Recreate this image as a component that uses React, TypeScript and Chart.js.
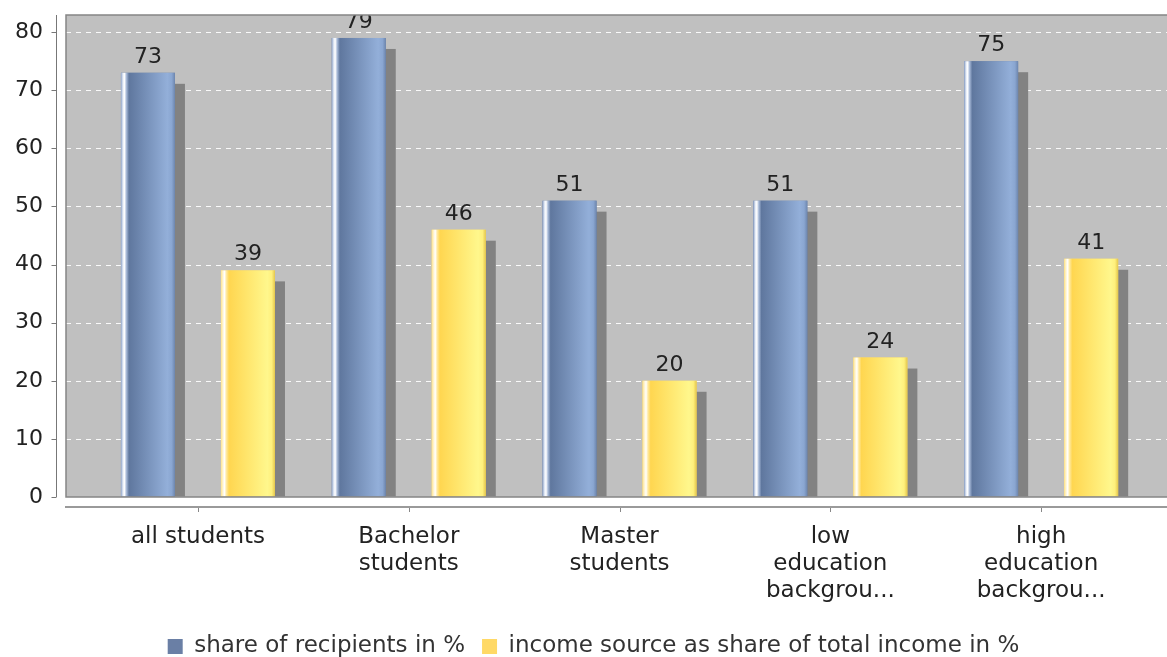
import React, { useEffect, useRef } from 'react';
import { Chart, registerables } from 'chart.js';

Chart.register(...registerables);

// ---- data ----
const categoryLabels: string[][] = [
  ['all students'],
  ['Bachelor', 'students'],
  ['Master', 'students'],
  ['low', 'education', 'backgrou...'],
  ['high', 'education', 'backgrou...'],
];
const seriesNames = ['share of recipients in %', 'income source as share of total income in %'];
const recipients = [73, 79, 51, 51, 75];
const incomeShare = [39, 46, 20, 24, 41];
const yTickStep = 10;
const yMax = 82.95;

// ---- styles ----
const FONT = 'DejaVu Sans';
const PLOT_BG = '#c0c0c0';
const SHADOW = '#828282';
const BLUE_STOPS: [number, string][] = [
  [0, '#8ea3c8'], [0.04, '#e8eef8'], [0.065, '#ffffff'], [0.1, '#a9bbd9'], [0.15, '#5f779e'],
  [0.86, '#93afd9'], [0.94, '#8aa6d1'], [1, '#6d86ae'],
];
const YELLOW_STOPS: [number, string][] = [
  [0, '#ffe48c'], [0.04, '#fff6d8'], [0.065, '#ffffff'], [0.1, '#ffe9a0'], [0.15, '#ffd650'],
  [0.86, '#fff78c'], [0.94, '#fff07c'], [1, '#e3c64c'],
];
const LEGEND_BLUE = '#6a7fa5';
const LEGEND_YELLOW = '#ffd966';

export default function App() {
  const ref = useRef<HTMLCanvasElement | null>(null);

  useEffect(() => {
    if (!ref.current) return;
    const stopsByDataset = [BLUE_STOPS, YELLOW_STOPS];

    const decor = {
      id: 'decor',
      afterLayout(chart: any) {
        const lg = chart.legend;
        if (lg) {
          const h = lg.bottom - lg.top;
          lg.top = 618;
          lg.bottom = 618 + h;
          lg.left += 10;
          lg.right += 10;
        }
      },
      beforeDatasetsDraw(chart: any) {
        const { ctx, chartArea: a, scales } = chart;
        ctx.save();
        ctx.fillStyle = PLOT_BG;
        ctx.fillRect(a.left, a.top, a.right - a.left, a.bottom - a.top);
        // dashed grid lines
        ctx.strokeStyle = 'rgba(255,255,255,0.9)';
        ctx.lineWidth = 1;
        ctx.setLineDash([5, 5]);
        scales.y.ticks.forEach((t: any) => {
          const py = Math.round(scales.y.getPixelForValue(t.value)) + 0.5;
          ctx.beginPath();
          ctx.moveTo(a.left, py);
          ctx.lineTo(a.right, py);
          ctx.stroke();
        });
        ctx.setLineDash([]);
        // shadows
        ctx.beginPath();
        ctx.rect(a.left, a.top, a.right - a.left, a.bottom - a.top);
        ctx.clip();
        ctx.fillStyle = SHADOW;
        chart.data.datasets.forEach((_: any, di: number) => {
          chart.getDatasetMeta(di).data.forEach((el: any) => {
            const { x, y, base, width } = el.getProps(['x', 'y', 'base', 'width'], true);
            ctx.fillRect(x - width / 2 + 10, y + 11, width, base - y - 11);
          });
        });
        ctx.restore();
      },
      afterDatasetsDraw(chart: any) {
        const { ctx, chartArea: a } = chart;
        ctx.save();
        ctx.beginPath();
        ctx.rect(a.left, a.top, a.right - a.left, a.bottom - a.top);
        ctx.clip();
        chart.data.datasets.forEach((ds: any, di: number) => {
          chart.getDatasetMeta(di).data.forEach((el: any, i: number) => {
            const { x, y, base, width } = el.getProps(['x', 'y', 'base', 'width'], true);
            const left = x - width / 2;
            const g = ctx.createLinearGradient(left, 0, left + width, 0);
            stopsByDataset[di].forEach(([o, c]) => g.addColorStop(o, c));
            ctx.fillStyle = g;
            ctx.fillRect(left, y, width, base - y);
            // value label
            ctx.fillStyle = '#222';
            ctx.font = `22px "${FONT}"`;
            ctx.textAlign = 'center';
            ctx.textBaseline = 'alphabetic';
            ctx.fillText(String(ds.data[i].y), x, y - 10);
          });
        });
        ctx.restore();

        // plot border
        ctx.save();
        ctx.strokeStyle = '#858585';
        ctx.lineWidth = 1.5;
        ctx.beginPath();
        ctx.moveTo(a.right + 2, a.top);
        ctx.lineTo(a.left, a.top);
        ctx.lineTo(a.left, a.bottom);
        ctx.lineTo(a.right + 2, a.bottom);
        ctx.stroke();

        // y axis line & tick marks
        const ys = chart.scales.y;
        const axX = a.left - 9.5;
        ctx.strokeStyle = '#777';
        ctx.lineWidth = 1;
        ctx.beginPath();
        ctx.moveTo(axX, a.top);
        ctx.lineTo(axX, a.bottom);
        ys.ticks.forEach((t: any) => {
          const py = Math.round(ys.getPixelForValue(t.value)) + 0.5;
          ctx.moveTo(axX - 5, py);
          ctx.lineTo(axX, py);
        });
        ctx.stroke();

        // x axis line & tick marks
        const xs = chart.scales.x;
        const axY = a.bottom + 10;
        ctx.strokeStyle = '#9a9a9a';
        ctx.lineWidth = 2;
        ctx.beginPath();
        ctx.moveTo(a.left - 1, axY);
        ctx.lineTo(a.right + 2, axY);
        ctx.stroke();
        ctx.strokeStyle = '#888';
        ctx.lineWidth = 1;
        ctx.beginPath();
        xs.ticks.forEach((t: any) => {
          const px = Math.round(xs.getPixelForValue(t.value)) + 0.5;
          ctx.moveTo(px, axY + 1);
          ctx.lineTo(px, axY + 5);
        });
        ctx.stroke();
        ctx.restore();
      },
    };

    const chart = new Chart(ref.current, {
      type: 'bar',
      data: {
        datasets: [
          {
            label: seriesNames[0],
            data: recipients.map((v, i) => ({ x: i, y: v })),
            backgroundColor: LEGEND_BLUE,
            borderWidth: 0,
            categoryPercentage: 0.949,
            barPercentage: 0.54,
          },
          {
            label: seriesNames[1],
            data: incomeShare.map((v, i) => ({ x: i, y: v })),
            backgroundColor: LEGEND_YELLOW,
            borderWidth: 0,
            categoryPercentage: 0.949,
            barPercentage: 0.54,
          },
        ],
      },
      options: {
        responsive: false,
        animation: false,
        layout: { padding: { top: 15, left: 0, right: 0, bottom: 0 } },
        plugins: {
          legend: {
            position: 'bottom',
            labels: {
              font: { family: FONT, size: 23 },
              color: '#333',
              boxWidth: 15,
              boxHeight: 15,
              padding: 17,
            },
          },
          tooltip: { enabled: false },
        },
        scales: {
          x: {
            type: 'linear',
            min: -0.626,
            max: 4.597,
            offset: false,
            afterBuildTicks: (s: any) => {
              s.ticks = categoryLabels.map((_, i) => ({ value: i }));
            },
            afterFit: (s: any) => {
              s.height = 110;
            },
            ticks: {
              autoSkip: false,
              maxRotation: 0,
              minRotation: 0,
              padding: 26,
              color: '#222',
              font: { family: FONT, size: 23, lineHeight: 1.18 },
              callback: (v: any) => categoryLabels[v] ?? '',
            },
            grid: { display: false, drawTicks: false },
            border: { display: false },
          },
          y: {
            type: 'linear',
            min: 0,
            max: yMax,
            afterFit: (s: any) => {
              s.width = 66;
            },
            ticks: {
              stepSize: yTickStep,
              includeBounds: false,
              padding: 0,
              color: '#222',
              font: { family: FONT, size: 22 },
            },
            grid: {
              display: true,
              drawOnChartArea: false,
              drawTicks: true,
              tickLength: 23,
              color: 'rgba(0,0,0,0)',
            },
            border: { display: false },
          },
        },
      },
      plugins: [decor],
    } as any);

    return () => chart.destroy();
  }, []);

  return (
    <div style={{ position: 'fixed', left: 0, top: 0, width: 1167, height: 657, background: '#fff' }}>
      <canvas ref={ref} width={1167} height={657} style={{ display: 'block' }} />
    </div>
  );
}
